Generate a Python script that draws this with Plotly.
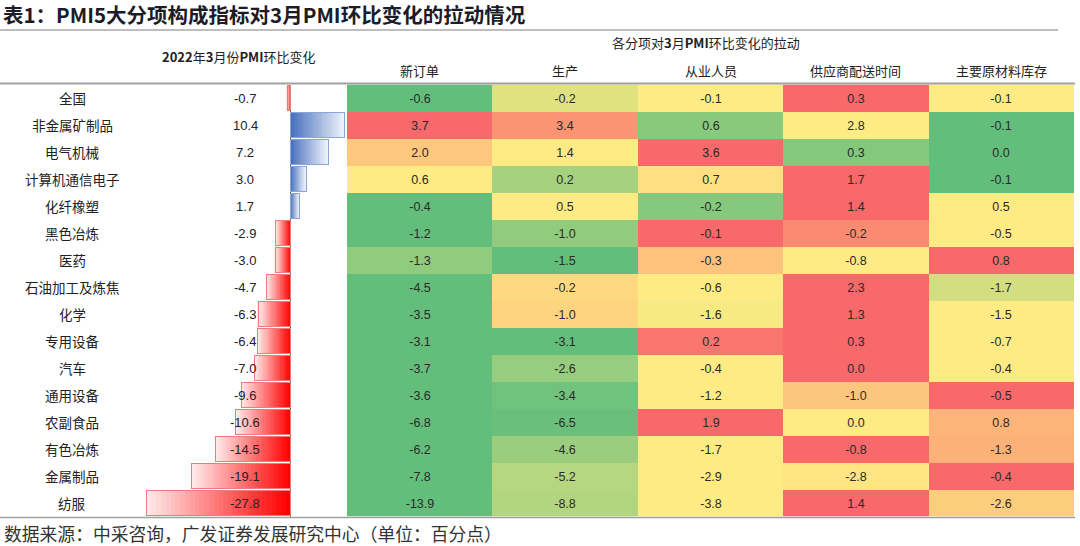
import plotly.graph_objects as go
import numpy as np

# ---------------- data ----------------
title = "表1：PMI5大分项构成指标对3月PMI环比变化的拉动情况"
footer = "数据来源：中采咨询，广发证券发展研究中心（单位：百分点）"
left_header = "<b>2022</b>年<b>3</b>月份<b>PMI</b>环比变化"
right_header = "各分项对<b>3</b>月<b>PMI</b>环比变化的拉动"

industries = ["全国", "非金属矿制品", "电气机械", "计算机通信电子", "化纤橡塑", "黑色冶炼",
              "医药", "石油加工及炼焦", "化学", "专用设备", "汽车", "通用设备",
              "农副食品", "有色冶炼", "金属制品", "纺服"]
pmi_change = [-0.7, 10.4, 7.2, 3.0, 1.7, -2.9, -3.0, -4.7, -6.3, -6.4, -7.0, -9.6,
              -10.6, -14.5, -19.1, -27.8]

components = ["新订单", "生产", "从业人员", "供应商配送时间", "主要原材料库存"]
new_orders = [-0.6, 3.7, 2.0, 0.6, -0.4, -1.2, -1.3, -4.5, -3.5, -3.1, -3.7, -3.6, -6.8, -6.2, -7.8, -13.9]
production = [-0.2, 3.4, 1.4, 0.2, 0.5, -1.0, -1.5, -0.2, -1.0, -3.1, -2.6, -3.4, -6.5, -4.6, -5.2, -8.8]
employment = [-0.1, 0.6, 3.6, 0.7, -0.2, -0.1, -0.3, -0.6, -1.6, 0.2, -0.4, -1.2, 1.9, -1.7, -2.9, -3.8]
delivery = [0.3, 2.8, 0.3, 1.7, 1.4, -0.2, -0.8, 2.3, 1.3, 0.3, 0.0, -1.0, 0.0, -0.8, -2.8, 1.4]
inventory = [-0.1, -0.1, 0.0, -0.1, 0.5, -0.5, 0.8, -1.7, -1.5, -0.7, -0.4, -0.5, 0.8, -1.3, -0.4, -2.6]

# ---------------- helpers ----------------
W, H = 1080, 546
def px(x):
    return x / W
def py(y):
    return 1 - y / H

n = len(industries)
rows = list(range(n))
vals = np.array([new_orders, production, employment, delivery, inventory]).T  # n x 5

# Excel style 3-colour scale applied per row (min green, median yellow, max red)
norm = np.zeros_like(vals)
for i in range(n):
    r = vals[i]
    lo, mid, hi = r.min(), np.median(r), r.max()
    for j in range(vals.shape[1]):
        v = r[j]
        if v <= mid:
            norm[i, j] = 0.0 if mid == lo else 0.5 * (v - lo) / (mid - lo)
        else:
            norm[i, j] = 1.0 if hi == mid else 0.5 + 0.5 * (v - mid) / (hi - mid)
text = [[f"{v:.1f}" for v in row] for row in vals]

fig = go.Figure()

# heatmap
fig.add_trace(go.Heatmap(
    z=norm, x=list(range(len(components))), y=rows, text=text,
    texttemplate="%{text}", textfont=dict(family="Liberation Sans, Arial", size=12.5, color="#2a2a2a"),
    colorscale=[[0, "#63BE7B"], [0.5, "#FFEB84"], [1, "#F8696B"]], zmin=0, zmax=1,
    showscale=False, xaxis="x2", yaxis="y", hoverinfo="skip"))

# gradient data bars (stacked slices)
N = 30
def lerp(a, b, t):
    return tuple(int(round(a[k] + (b[k] - a[k]) * t)) for k in range(3))
red0, red1 = (255, 0, 0), (255, 232, 232)
blue0, blue1 = (72, 112, 190), (236, 241, 250)
for k in range(N):
    t = k / (N - 1)
    cols = []
    for v in pmi_change:
        c = lerp(red0, red1, t) if v < 0 else lerp(blue0, blue1, t)
        cols.append("rgb(%d,%d,%d)" % c)
    fig.add_trace(go.Bar(
        x=[v / N for v in pmi_change], y=rows, orientation="h",
        marker=dict(color=cols, line=dict(width=0)), xaxis="x", yaxis="y",
        hoverinfo="skip", showlegend=False))

# bar outlines
fig.add_trace(go.Bar(
    x=pmi_change, y=rows, orientation="h", xaxis="x3", yaxis="y",
    marker=dict(color="rgba(0,0,0,0)",
                line=dict(width=1, color=["#ec7b7b" if v < 0 else "#8aa6d6" for v in pmi_change])),
    hoverinfo="skip", showlegend=False))

ydom = [py(516.5), py(84.5)]
bar_range = [-28.0, 10.6]
bar_dom = [px(145.4), px(346)]

fig.update_layout(
    width=W, height=H, margin=dict(l=0, r=0, t=0, b=0),
    paper_bgcolor="white", plot_bgcolor="rgba(0,0,0,0)",
    barmode="stack", bargap=0.1, showlegend=False,
    xaxis=dict(domain=bar_dom, range=bar_range, showticklabels=False, showgrid=False,
               zeroline=True, zerolinecolor="#555555", zerolinewidth=1, fixedrange=True),
    xaxis3=dict(overlaying="x", domain=bar_dom, range=bar_range, visible=False),
    xaxis2=dict(domain=[px(347), px(1074)], range=[-0.5, 4.5], visible=False),
    yaxis=dict(domain=ydom, range=[n - 0.5, -0.5], visible=False),
)

ann = []
cjk = "Noto Sans CJK SC"
def A(**kw):
    d = dict(showarrow=False, xanchor="center", yanchor="middle")
    d.update(kw)
    ann.append(d)

# title
A(text=f"<b>{title}</b>", x=px(1), y=py(14), xref="paper", yref="paper", xanchor="left",
  font=dict(family=cjk, size=20.5, color="#1c1c28"))
# headers
A(text=left_header, x=px(238), y=py(57), xref="paper", yref="paper",
  font=dict(family=cjk, size=13, color="#222"))
A(text=right_header, x=px(706), y=py(43), xref="paper", yref="paper",
  font=dict(family=cjk, size=13, color="#222"))
for j, c in enumerate(components):
    A(text=c, x=j, y=py(70), xref="x2", yref="paper",
      font=dict(family=cjk, size=13, color="#222"))
# row labels and values
for i, (name, v) in enumerate(zip(industries, pmi_change)):
    A(text=name, x=px(72), y=i, xref="paper", yref="y",
      font=dict(family=cjk, size=13.5, color="#222"))
    A(text=f"{v:.1f}", x=px(245), y=i, xref="paper", yref="y",
      font=dict(family="Liberation Sans, Arial", size=13, color="#222"))
# footer
A(text=footer, x=px(2), y=py(533), xref="paper", yref="paper", xanchor="left",
  font=dict(family=cjk, size=17.8, color="#333"))
fig.update_layout(annotations=ann)

shapes = [
    dict(type="line", xref="paper", yref="paper", x0=0, x1=px(1058), y0=py(30), y1=py(30),
         line=dict(color="#a8a8a8", width=1.5)),
    dict(type="line", xref="paper", yref="paper", x0=0, x1=px(1075), y0=py(83.5), y1=py(83.5),
         line=dict(color="#a0a0a0", width=2)),
    dict(type="line", xref="paper", yref="paper", x0=0, x1=px(1075), y0=py(517.5), y1=py(517.5),
         line=dict(color="#a0a0a0", width=1.5)),
]
fig.update_layout(shapes=shapes)

fig.write_html("out.html", config={"displayModeBar": False},
               post_script="document.body.style.margin='0';document.body.style.overflow='hidden';")
